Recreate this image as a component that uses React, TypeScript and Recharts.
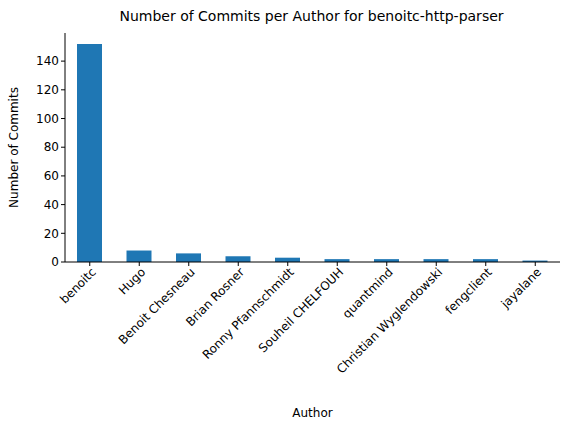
import React from "react";
import { BarChart, Bar, XAxis, YAxis, Label } from "recharts";

const authors = ["benoitc", "Hugo", "Benoit Chesneau", "Brian Rosner", "Ronny Pfannschmidt", "Souheil CHELFOUH", "quantmind", "Christian Wyglendowski", "fengclient", "jayalane"];
const commits = [152, 8, 6, 4, 3, 2, 2, 2, 2, 1];
const yTicks = [0, 20, 40, 60, 80, 100, 120, 140];

const data = authors.map((a, i) => ({ author: a, commits: commits[i] }));

const font = "DejaVu Sans";

function RotTick(props: any) {
  const { x, y, payload } = props;
  return (
    <g transform={`translate(${x + 4},${y + 2})`}>
      <text transform="rotate(-45)" textAnchor="end" fontSize={12} fontFamily={font} fill="#000" dy={4}>
        {payload.value}
      </text>
    </g>
  );
}

export default function App() {
  return (
    <div style={{ position: "absolute", left: 0, top: 0, width: 571, height: 429, background: "#fff" }}>
      <div style={{ position: "absolute", top: 8, left: 26, width: 571, textAlign: "center", fontFamily: font, fontSize: 14 }}>
        Number of Commits per Author for benoitc-http-parser
      </div>
      <BarChart width={571} height={429} data={data} margin={{ top: 33, right: 11, left: 0, bottom: 0 }}>
        <XAxis dataKey="author" interval={0} tick={<RotTick />} height={167} tickSize={4} axisLine={{ stroke: "#000" }} tickLine={{ stroke: "#000" }}>
          <Label value="Author" position="insideBottom" offset={12} fontFamily={font} fontSize={12} fill="#000" />
        </XAxis>
        <XAxis xAxisId="top" dataKey="author" orientation="top" height={0} tick={false} tickLine={false} axisLine={{ stroke: "#000" }} />
        <YAxis domain={[0, 159.6]} ticks={yTicks} width={65} tickSize={4} axisLine={{ stroke: "#000" }} tickLine={{ stroke: "#000" }} tick={{ fontFamily: font, fontSize: 12, fill: "#000" }}>
          <Label value="Number of Commits" angle={-90} position="insideLeft" offset={14} fontFamily={font} fontSize={12} fill="#000" style={{ textAnchor: "middle" }} />
        </YAxis>
        <YAxis yAxisId="right" orientation="right" width={0} tick={false} tickLine={false} axisLine={{ stroke: "#000" }} />
        <Bar dataKey="commits" fill="#1f77b4" barSize={25} isAnimationActive={false} />
      </BarChart>
    </div>
  );
}
